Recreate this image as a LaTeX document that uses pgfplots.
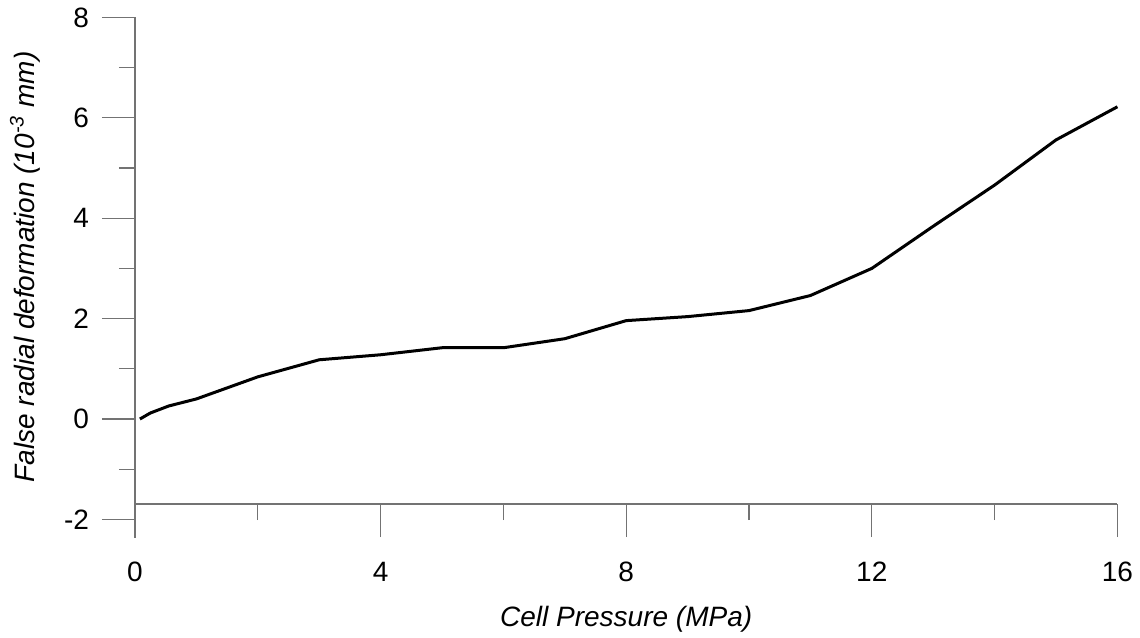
\documentclass[border=0pt]{standalone}
\usepackage{pgfplots}
\pgfplotsset{compat=1.18}
\usepackage{fontspec}
\setmainfont{Liberation Sans}

\definecolor{axisgray}{gray}{0.45}

\begin{document}
\begin{tikzpicture}
\useasboundingbox (-67.5pt,-109pt) rectangle (502.5pt,209.5pt);
\begin{axis}[
  at={(0pt,-59.25pt)}, anchor=south west,
  x=30.7pt, y=25.1pt,
  xmin=0, xmax=16, ymin=-2.36, ymax=8,
  axis y line=left, axis x line=bottom,
  axis x line shift=-16.75pt,
  axis line style={axisgray, line width=0.6pt, -},
  every tick/.style={axisgray, line width=0.6pt},
  tick align=outside,
  xtick={0,4,8,12,16}, minor xtick={2,6,10,14},
  ytick={-2,0,2,4,6,8}, minor ytick={-1,1,3,5,7},
  major tick length=16.5pt, minor tick length=8pt,
  /pgf/number format/assume math mode=true,
  ticklabel style={font=\fontsize{14}{16}\selectfont, black},
  xticklabel style={yshift=-9pt},
  yticklabel style={xshift=-3pt},
  label style={font=\fontsize{14}{16}\selectfont\itshape},
  xlabel={Cell Pressure (MPa)},
  ylabel={False radial deformation (10\textsuperscript{-3} mm)},
  xlabel style={at={(axis description cs:0.5,0)}, anchor=north, yshift=-31pt},
  ylabel style={at={(axis description cs:0,0.52)}, anchor=south, yshift=44pt},
  clip=false,
]
\addplot[black, line width=1.5pt] coordinates {
  (0.08,0.0) (0.25,0.12) (0.55,0.26) (1,0.40) (2,0.84) (3,1.18)
  (4,1.28) (5,1.42) (6,1.42) (7,1.60) (8,1.96) (9,2.04) (10,2.16)
  (11,2.46) (12,3.00) (13,3.84) (14,4.66) (15,5.56) (16,6.22)
};
\end{axis}
\end{tikzpicture}
\end{document}
